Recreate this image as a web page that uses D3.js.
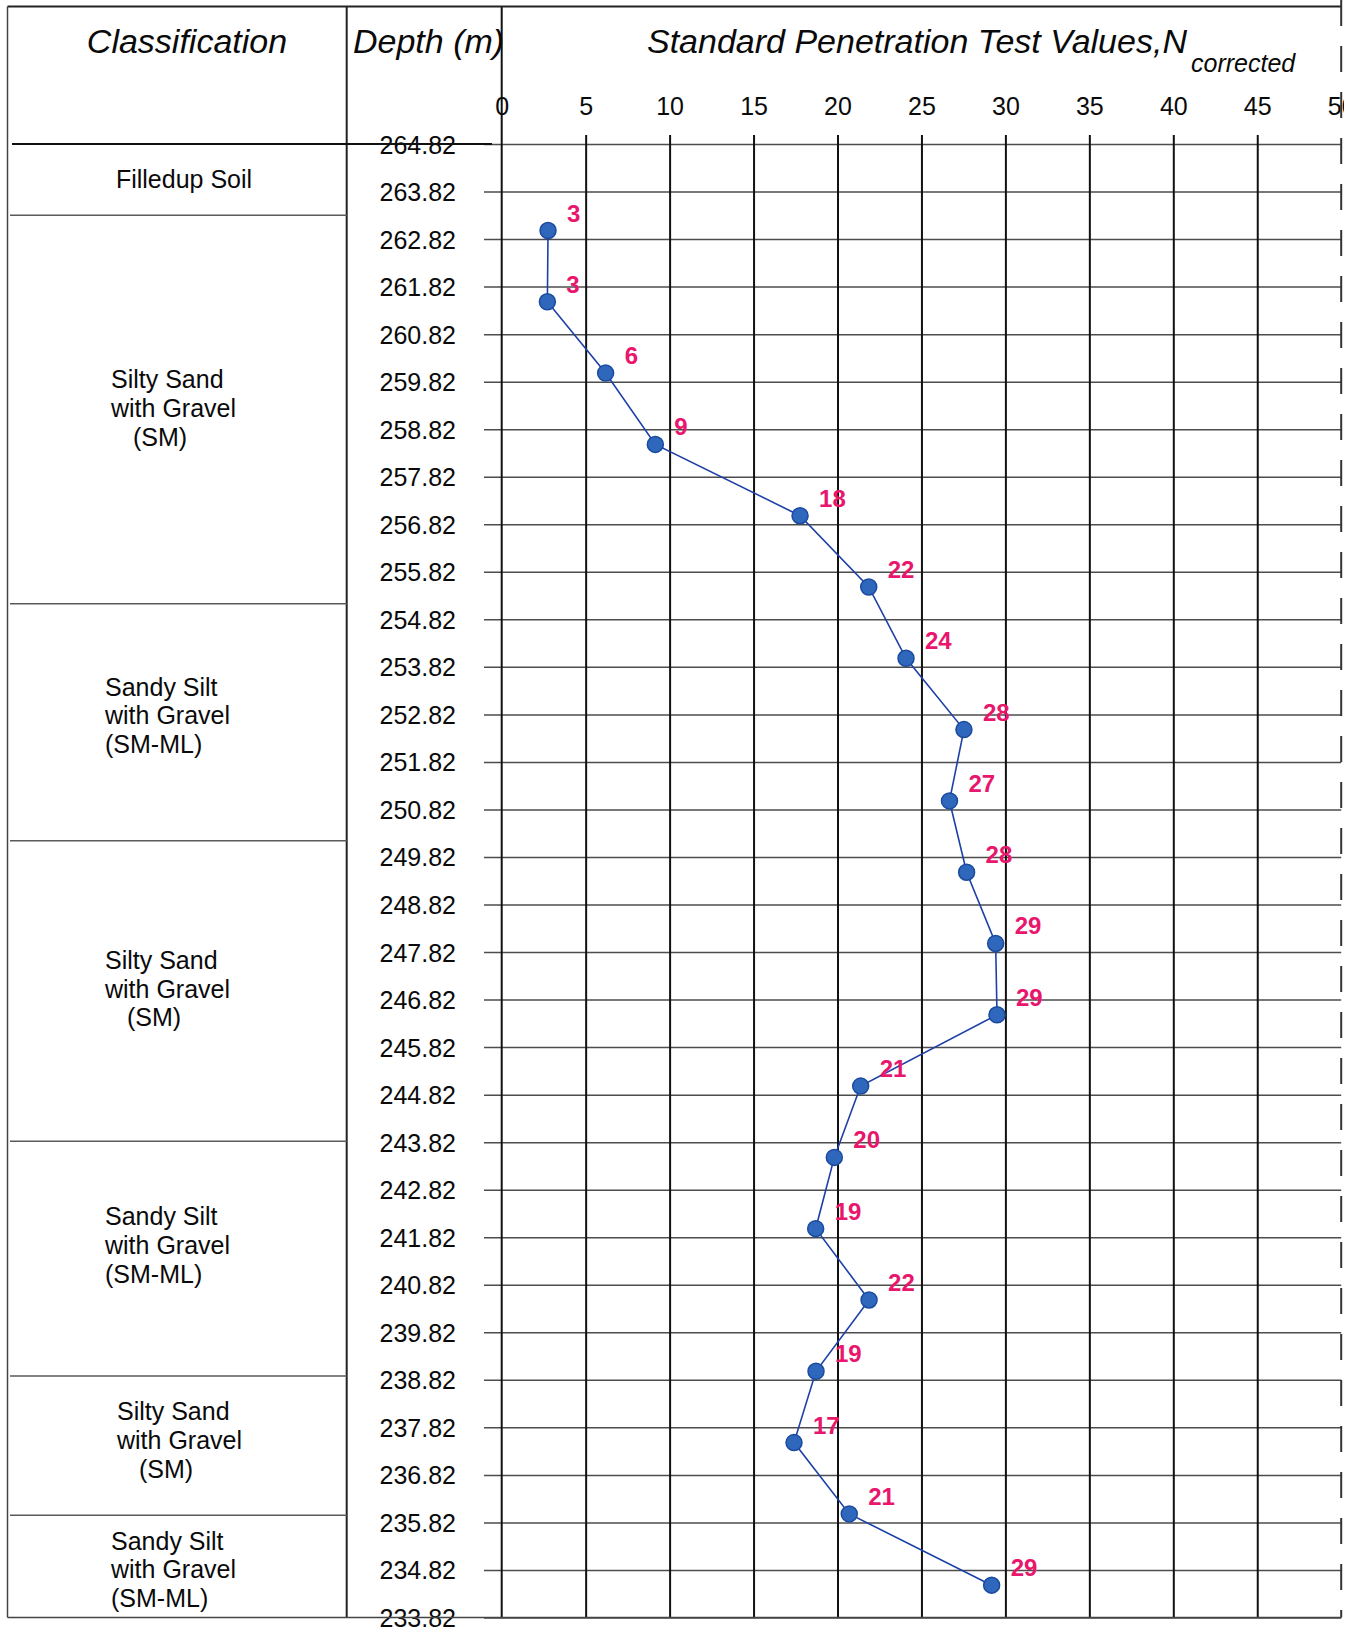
<!DOCTYPE html>
<html>
<head>
<meta charset="utf-8">
<script src="https://cdn.jsdelivr.net/npm/d3@7"></script>
<style>
  html, body { margin: 0; padding: 0; background: #ffffff; }
  svg { display: block; }
</style>
</head>
<body>
<svg id="chart" width="1359" height="1629"></svg>
<script>
// ---------------- DATA ----------------
const depthTicks = [264.82, 263.82, 262.82, 261.82, 260.82, 259.82, 258.82, 257.82,
  256.82, 255.82, 254.82, 253.82, 252.82, 251.82, 250.82, 249.82, 248.82, 247.82,
  246.82, 245.82, 244.82, 243.82, 242.82, 241.82, 240.82, 239.82, 238.82, 237.82,
  236.82, 235.82, 234.82, 233.82];
const nTicks = [0, 5, 10, 15, 20, 25, 30, 35, 40, 45, 50];

const sampleElevations = [263.0, 261.5, 260.0, 258.5, 257.0, 255.5, 254.0, 252.5, 251.0, 249.5,
  248.0, 246.5, 245.0, 243.5, 242.0, 240.5, 239.0, 237.5, 236.0, 234.5];
const nValues = [2.76, 2.72, 6.19, 9.15, 17.77, 21.86, 24.08, 27.53, 26.67, 27.69,
  29.42, 29.50, 21.38, 19.81, 18.70, 21.88, 18.72, 17.41, 20.70, 29.18];
const nLabels = ["3", "3", "6", "9", "18", "22", "24", "28", "27", "28",
  "29", "29", "21", "20", "19", "22", "19", "17", "21", "29"];

const layerBoundaries = [264.82, 263.32, 255.15, 250.16, 243.84, 238.90, 235.97, 233.82];
const layerNames = [
  ["Filledup Soil"],
  ["Silty Sand", "with Gravel", "(SM)"],
  ["Sandy Silt", "with Gravel", "(SM-ML)"],
  ["Silty Sand", "with Gravel", "(SM)"],
  ["Sandy Silt", "with Gravel", "(SM-ML)"],
  ["Silty Sand", "with Gravel", "(SM)"],
  ["Sandy Silt", "with Gravel", "(SM-ML)"]
];

const headerClassification = "Classification";
const headerDepth = "Depth (m)";
const headerTitle = "Standard Penetration Test Values,N";
const headerSub = "corrected";

// ---------------- LAYOUT ----------------
const FONT = "'Liberation Sans', Arial, Helvetica, sans-serif";
const svg = d3.select("#chart");
const W = 1359, H = 1629;
const leftX = 7.5, sepX = 346.7, rightX = 1341.2, topY = 6.5, bottomY = 1617.5;

const x = d3.scaleLinear().domain([0, 50]).range([501.7, 1341.2]);
const y = d3.scaleLinear().domain([264.82, 233.82]).range([144, 1617.5]);

svg.append("rect").attr("width", W).attr("height", H).attr("fill", "#fff");

svg.append("defs").append("clipPath").attr("id", "pageClip")
  .append("rect").attr("x", 0).attr("y", 0).attr("width", 1344).attr("height", H);

const g = svg.append("g").attr("clip-path", "url(#pageClip)");

// horizontal depth grid lines (gray)
g.append("g")
  .attr("transform", `translate(${rightX},0)`)
  .call(d3.axisRight(y).tickValues(depthTicks).tickSize(-(rightX - 484)).tickFormat(""))
  .call(s => s.select(".domain").remove())
  .call(s => s.selectAll(".tick line").attr("stroke", "#4d4d4d").attr("stroke-width", 1.5));

// vertical N grid lines (black)
g.append("g")
  .attr("transform", `translate(0,${bottomY})`)
  .call(d3.axisBottom(x).tickValues(nTicks.filter(d => d > 0 && d < 50)).tickSize(-(bottomY - 135)).tickFormat(""))
  .call(s => s.select(".domain").remove())
  .call(s => s.selectAll(".tick line").attr("stroke", "#111").attr("stroke-width", 2));

// x = 0 line spanning to top
g.append("line").attr("x1", x(0)).attr("x2", x(0)).attr("y1", topY).attr("y2", bottomY)
  .attr("stroke", "#111").attr("stroke-width", 2);

// top N tick labels
g.append("g")
  .attr("transform", "translate(0,115)")
  .call(d3.axisTop(x).tickValues(nTicks).tickSize(0).tickPadding(0).tickFormat(d3.format("d")))
  .call(s => s.select(".domain").remove())
  .call(s => s.selectAll(".tick text")
    .attr("font-family", FONT).attr("font-size", 25).attr("fill", "#0a0a0a")
    .attr("dy", 0).attr("y", 0));

// depth labels
g.append("g")
  .attr("transform", "translate(456,0)")
  .call(d3.axisLeft(y).tickValues(depthTicks).tickSize(0).tickPadding(0).tickFormat(d3.format(".2f")))
  .call(s => s.select(".domain").remove())
  .call(s => s.selectAll(".tick text")
    .attr("font-family", FONT).attr("font-size", 25).attr("fill", "#0a0a0a")
    .attr("dy", "0.36em"));

// table frame
const frame = g.append("g").attr("stroke", "#222").attr("fill", "none");
frame.append("line").attr("x1", leftX).attr("x2", rightX).attr("y1", topY).attr("y2", topY).attr("stroke-width", 2);
frame.append("line").attr("x1", leftX).attr("x2", leftX).attr("y1", topY).attr("y2", bottomY).attr("stroke-width", 1.5).attr("stroke", "#444");
frame.append("line").attr("x1", sepX).attr("x2", sepX).attr("y1", topY).attr("y2", bottomY).attr("stroke-width", 2);
frame.append("line").attr("x1", leftX).attr("x2", rightX).attr("y1", bottomY).attr("y2", bottomY).attr("stroke-width", 1.5).attr("stroke", "#444");
frame.append("line").attr("x1", rightX).attr("x2", rightX).attr("y1", 0).attr("y2", bottomY)
  .attr("stroke-width", 2).attr("stroke", "#333").attr("stroke-dasharray", "26,20");
// strike line at ground level
frame.append("line").attr("x1", 12).attr("x2", 492).attr("y1", y(layerBoundaries[0])).attr("y2", y(layerBoundaries[0]))
  .attr("stroke-width", 2).attr("stroke", "#111");

// layer boundaries
g.append("g").selectAll("line").data(layerBoundaries.slice(1, -1)).join("line")
  .attr("x1", 10).attr("x2", sepX).attr("y1", d => y(d)).attr("y2", d => y(d))
  .attr("stroke", "#5a5a5a").attr("stroke-width", 1.5);

// layer labels
const labelLayout = [
  { x: 184, anchor: "middle", off: 8.5 },
  { x: 111, anchor: "start", off: 7.5 },
  { x: 105, anchor: "start", off: 2 },
  { x: 105, anchor: "start", off: 6.5 },
  { x: 105, anchor: "start", off: -4.6 },
  { x: 117, anchor: "start", off: 3.5 },
  { x: 111, anchor: "start", off: 12 }
];
const lineGap = 28.7;
layerNames.forEach((lines, i) => {
  const mid = (y(layerBoundaries[i]) + y(layerBoundaries[i + 1])) / 2;
  const L = labelLayout[i];
  const first = mid + L.off - (lines.length - 1) / 2 * lineGap;
  g.append("g").selectAll("text").data(lines).join("text")
    .attr("x", d => L.x + (d === "(SM)" ? 22 : 0))
    .attr("y", (d, j) => first + j * lineGap)
    .attr("text-anchor", L.anchor)
    .attr("font-family", FONT).attr("font-size", 25).attr("fill", "#0a0a0a")
    .text(d => d);
});

// headers
const hdr = g.append("g").attr("font-family", FONT).attr("font-style", "italic").attr("fill", "#0a0a0a");
hdr.append("text").attr("x", 187).attr("y", 53).attr("text-anchor", "middle").attr("font-size", 34).text(headerClassification);
hdr.append("text").attr("x", 353).attr("y", 53).attr("font-size", 34).text(headerDepth);
hdr.append("text").attr("x", 647).attr("y", 53).attr("font-size", 34).text(headerTitle);
hdr.append("text").attr("x", 1191).attr("y", 72).attr("font-size", 25).text(headerSub);

// data line
const pts = nValues.map((v, i) => ({ v, e: sampleElevations[i], lab: nLabels[i] }));
g.append("path").datum(pts)
  .attr("fill", "none").attr("stroke", "#1d40a6").attr("stroke-width", 1.6)
  .attr("d", d3.line().x(d => x(d.v)).y(d => y(d.e)));

g.append("g").selectAll("circle").data(pts).join("circle")
  .attr("cx", d => x(d.v)).attr("cy", d => y(d.e)).attr("r", 8)
  .attr("fill", "#2f67bd").attr("stroke", "#1b4b9e").attr("stroke-width", 1.5);

g.append("g").selectAll("text").data(pts).join("text")
  .attr("x", d => x(d.v) + 19).attr("y", d => y(d.e) - 9)
  .attr("font-family", FONT).attr("font-weight", "bold").attr("font-size", 24)
  .attr("fill", "#e8166c")
  .text(d => d.lab);
</script>
</body>
</html>
